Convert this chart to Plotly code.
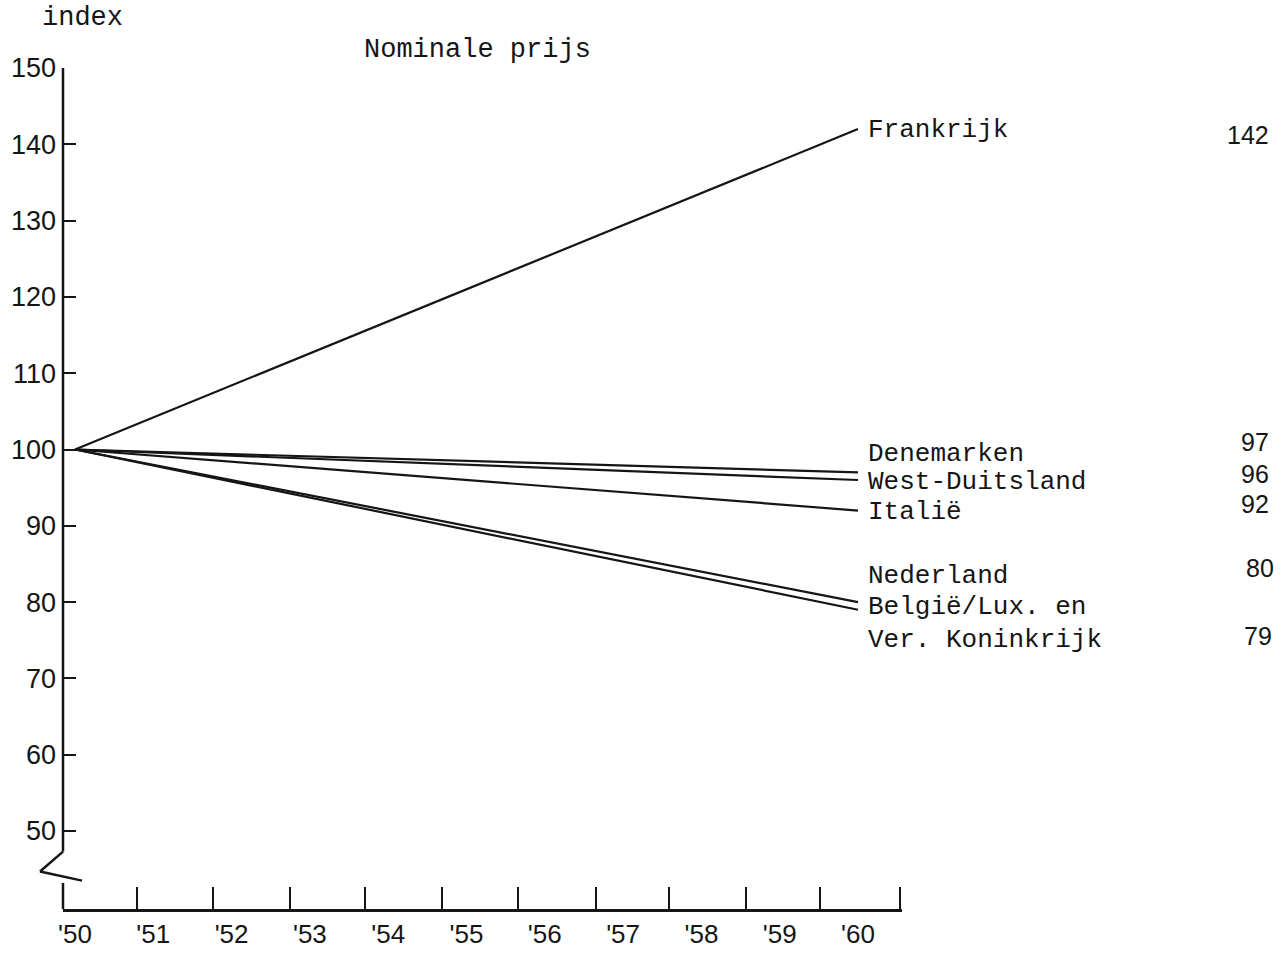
import plotly.graph_objects as go

# gegevens (index 1950 = 100)
years = [1950, 1960]
countries = ["Frankrijk", "Denemarken", "West-Duitsland", "Italië",
             "Nederland", "België/Lux. en Ver. Koninkrijk"]
end_values = [142, 97, 96, 92, 80, 79]

y_ticks = [50, 60, 70, 80, 90, 100, 110, 120, 130, 140, 150]
x_labels = ["'50", "'51", "'52", "'53", "'54", "'55",
            "'56", "'57", "'58", "'59", "'60"]

# labels rechts naast de lijnen
label_text = ["Frankrijk", "Denemarken", "West-Duitsland", "Italië",
              "Nederland", "België/Lux. en", "Ver. Koninkrijk"]
label_y = [141.9, 99.4, 95.7, 91.8, 83.4, 79.4, 75.0]

# getallen in de rechterkolom
num_text = ["142", "97", "96", "92", "80", "79"]
num_y = [141.2, 101.0, 96.8, 92.8, 84.5, 75.6]
num_x = [1.412, 1.421, 1.421, 1.421, 1.427, 1.424]

INK = "#151515"
MONO = "Liberation Mono"
SANS = "Liberation Sans"

fig = go.Figure()

for name, v in zip(countries, end_values):
    fig.add_trace(go.Scatter(x=years, y=[100, v], mode="lines", name=name,
                             line=dict(color=INK, width=2.2),
                             showlegend=False, hoverinfo="skip"))

# tussenliggende streepjes op de x-as
minor_pos = [1950.79, 1951.76, 1952.75, 1953.70, 1954.69, 1955.66,
             1956.65, 1957.59, 1958.57, 1959.52, 1960.54]

fig.update_xaxes(
    range=[1949.847, 1960.562], automargin=False,
    tickvals=list(range(1950, 1961)), ticktext=x_labels,
    ticks="", showgrid=False, zeroline=False,
    showline=True, linecolor=INK, linewidth=2.5,
    tickfont=dict(family=SANS, size=26, color=INK),
    minor=dict(tickvals=minor_pos, ticks="inside", ticklen=22,
               tickwidth=2, tickcolor=INK, showgrid=False),
)

ymin = 150 - 841 / 7.63
fig.update_yaxes(
    range=[ymin, 150], automargin=False,
    tickvals=y_ticks, ticks="inside", ticklen=13, tickwidth=2.2,
    tickcolor=INK, showgrid=False, zeroline=False, showline=False,
    ticklabelstandoff=6,
    tickfont=dict(family=SANS, size=27, color=INK),
)

# y-as met onderbreking (zigzag)
line = dict(color=INK, width=2.5)
fig.add_shape(type="line", xref="paper", yref="y", x0=0, x1=0,
              y0=150, y1=47.3, line=line)
fig.add_shape(type="line", xref="paper", yref="y", x0=0, x1=-0.0274,
              y0=47.3, y1=44.7, line=line)
fig.add_shape(type="line", xref="paper", yref="y", x0=-0.0274, x1=0.0227,
              y0=44.7, y1=43.5, line=line)
fig.add_shape(type="line", xref="paper", yref="y", x0=0, x1=0,
              y0=43.2, y1=ymin, line=line)

for t, y in zip(label_text, label_y):
    fig.add_annotation(x=1960.10, y=y, xref="x", yref="y", text=t,
                       showarrow=False, xanchor="left", yanchor="middle",
                       font=dict(family=MONO, size=26, color=INK))

for t, y, x in zip(num_text, num_y, num_x):
    fig.add_annotation(x=x, y=y, xref="paper", yref="y", text=t,
                       showarrow=False, xanchor="center", yanchor="middle",
                       font=dict(family=SANS, size=25, color=INK))

fig.add_annotation(x=-0.027, y=1.0595, xref="paper", yref="paper",
                   text="index", showarrow=False, xanchor="left",
                   yanchor="middle", font=dict(family=MONO, size=27, color=INK))
fig.add_annotation(x=0.4946, y=1.0214, xref="paper", yref="paper",
                   text="Nominale prijs", showarrow=False, xanchor="center",
                   yanchor="middle", font=dict(family=MONO, size=27, color=INK))

fig.update_layout(
    width=1287, height=953,
    margin=dict(l=63, r=385, t=68, b=44),
    paper_bgcolor="white", plot_bgcolor="white",
)

fig.write_html(
    "out.html",
    config={"displayModeBar": False},
    post_script=(
        "document.documentElement.style.overflow='hidden';"
        "document.body.style.margin='0px';"
        "document.body.style.overflow='hidden';"
    ),
)
